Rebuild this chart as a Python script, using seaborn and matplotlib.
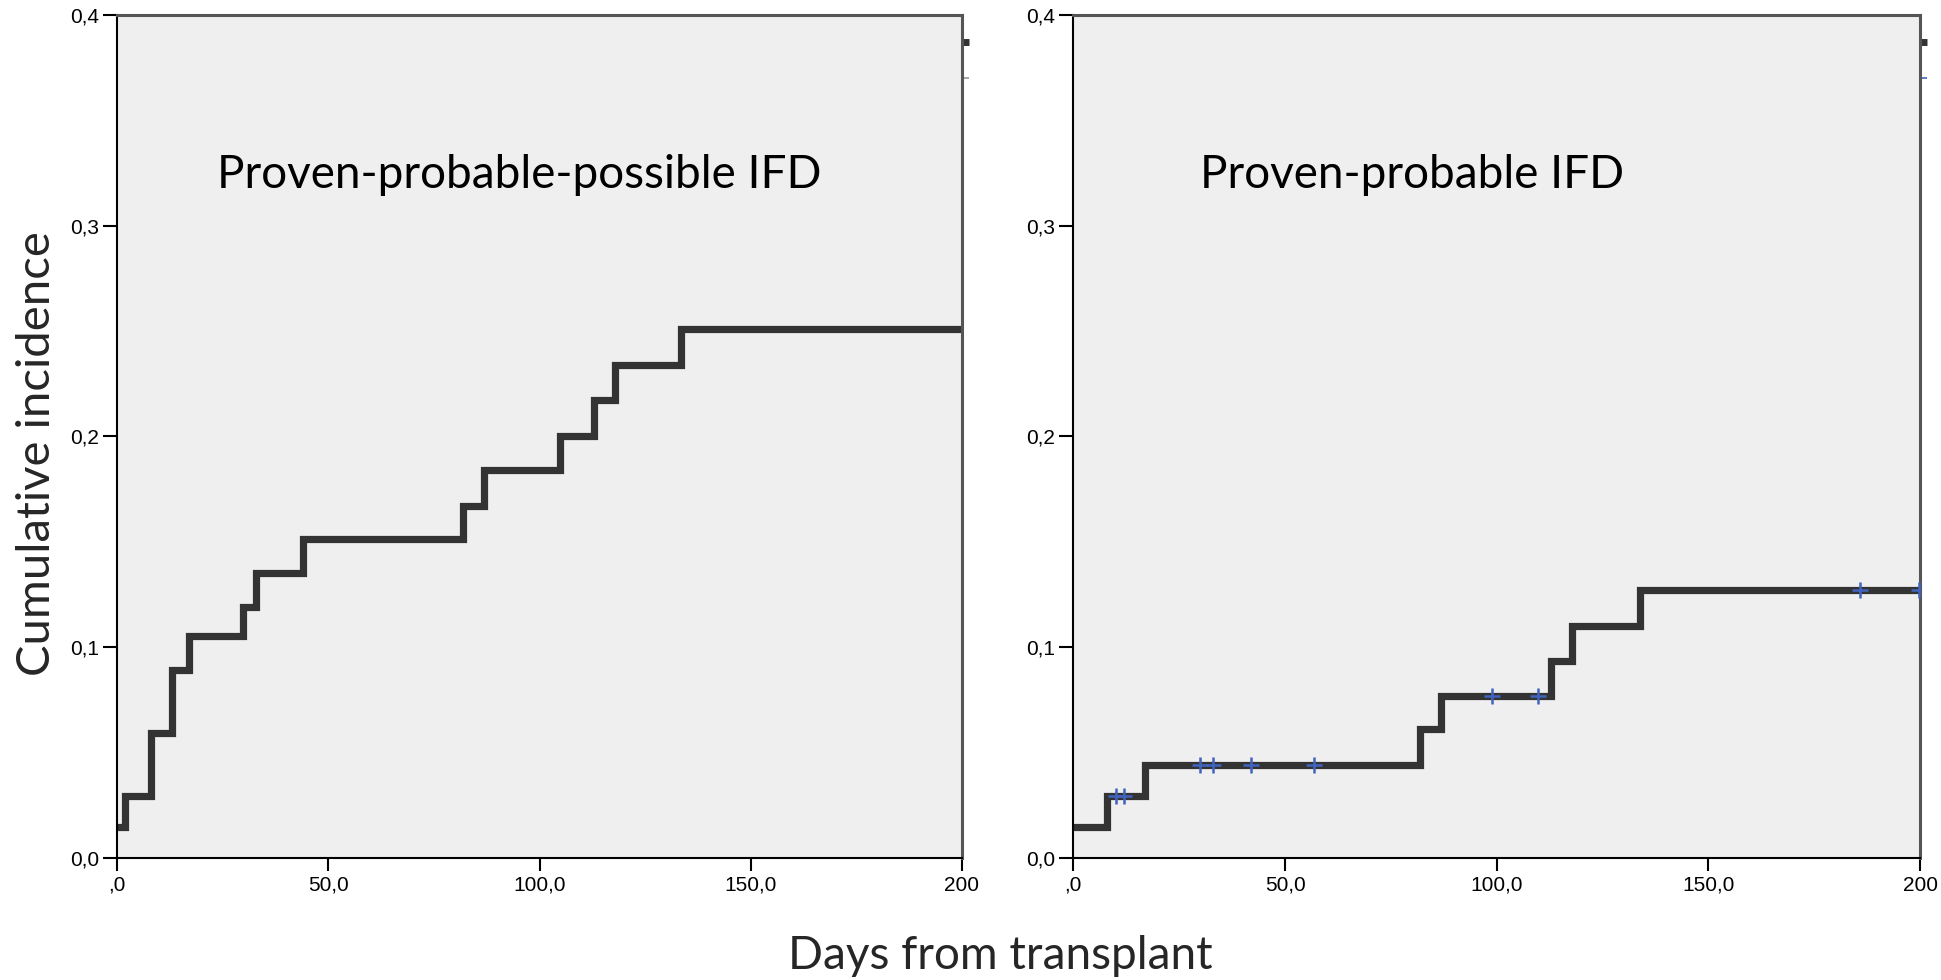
import numpy as np
import pandas as pd
import matplotlib.pyplot as plt
import seaborn as sns

# Step curves (days, cumulative incidence)
left_days = [0, 1.9, 8.0, 13.0, 17.0, 29.9, 33.0, 43.9, 81.9, 86.8, 104.9, 112.8, 117.9, 133.5, 200]
left_inc = [0.0145, 0.029, 0.059, 0.089, 0.105, 0.119, 0.135, 0.151, 0.167, 0.184, 0.200, 0.217, 0.234, 0.251, 0.251]

right_days = [0, 8.0, 16.9, 81.9, 86.8, 112.8, 117.9, 133.8, 200]
right_inc = [0.0143, 0.029, 0.0441, 0.061, 0.0766, 0.0935, 0.110, 0.127, 0.127]
right_censored = [10.1, 12.0, 29.9, 32.9, 41.9, 56.9, 98.8, 109.8, 185.8, 199.8]

titles = ["Proven-probable-possible IFD", "Proven-probable IFD"]
title_x = [0.4765, 0.4006]
y_ticks = [0.0, 0.1, 0.2, 0.3, 0.4]
y_labels = ["0,0", "0,1", "0,2", "0,3", "0,4"]
x_ticks = [0, 50, 100, 150, 200]
x_labels = [",0", "50,0", "100,0", "150,0", "200"]

sns.set_style("ticks")
plt.rcParams["font.family"] = ["Liberation Sans", "DejaVu Sans"]

fig = plt.figure(figsize=(19.41, 9.80), dpi=100)
ax_left = fig.add_axes([0.0603, 0.125, 0.4353, 0.8597])
ax_right = fig.add_axes([0.5530, 0.125, 0.4362, 0.8597])

line_color = "#333333"
tick_len = 0.0166  # outward tick length in axes fraction
curves = [(left_days, left_inc, []), (right_days, right_inc, right_censored)]

for ax, (days, inc, cens), title, tx in zip([ax_left, ax_right], curves, titles, title_x):
    ax.set_facecolor("#efefef")
    df = pd.DataFrame({"days": days, "inc": inc})
    sns.lineplot(data=df, x="days", y="inc", ax=ax, drawstyle="steps-post",
                 color=line_color, linewidth=5.2, solid_joinstyle="miter",
                 solid_capstyle="butt")
    if cens:
        idx = np.searchsorted(days, cens, side="right") - 1
        cdf = pd.DataFrame({"days": cens, "inc": np.array(inc)[idx]})
        sns.scatterplot(data=cdf, x="days", y="inc", ax=ax, marker="+",
                        color="#4063c0", s=140, linewidth=1.8, zorder=5)

    # cut-off legend remnants beyond the right edge
    ax.plot([200, 201.6], [0.387, 0.387], color=line_color, lw=5, clip_on=False,
            solid_capstyle="butt")
    ax.plot([200, 201.6], [0.370, 0.370], color="#4063c0" if cens else "#999999",
            lw=1.2, clip_on=False, solid_capstyle="butt")

    ax.set_xlim(0, 200)
    ax.set_ylim(0, 0.4)
    ax.set_xticks(x_ticks, x_labels)
    ax.set_yticks(y_ticks, y_labels)
    ax.set_xlabel("")
    ax.set_ylabel("")
    ax.tick_params(axis="both", length=0, colors="black", labelsize=15, pad=13)

    # outward tick marks drawn at the tick positions
    for xv in x_ticks:
        ax.plot([xv, xv], [0, -tick_len], transform=ax.get_xaxis_transform(),
                color="black", lw=1.5, clip_on=False, solid_capstyle="butt")
    for yv in y_ticks:
        ax.plot([0, -tick_len], [yv, yv], transform=ax.get_yaxis_transform(),
                color="black", lw=1.5, clip_on=False, solid_capstyle="butt")

    for side in ["left", "bottom"]:
        ax.spines[side].set_color("black")
        ax.spines[side].set_linewidth(1.5)
    for side in ["top", "right"]:
        ax.spines[side].set_visible(True)
        ax.spines[side].set_color("#555555")
        ax.spines[side].set_linewidth(2.2)
    ax.text(tx, 0.81, title, transform=ax.transAxes, ha="center", va="center",
            fontsize=33, family=["Lato", "DejaVu Sans"], color="black")

fig.text(0.5155, 0.024, "Days from transplant", ha="center", va="center",
         fontsize=33, family=["Lato", "DejaVu Sans"])
fig.text(0.019, 0.537, "Cumulative incidence", ha="center", va="center",
         rotation=90, fontsize=34, family=["Lato", "DejaVu Sans"])

fig.savefig("out.png", dpi=100, facecolor="white")
